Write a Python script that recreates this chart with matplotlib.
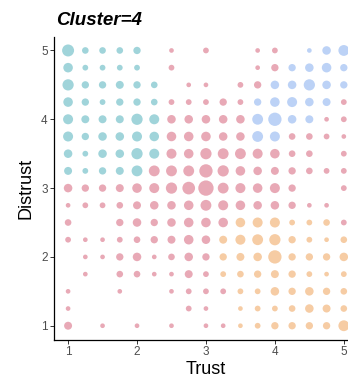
import numpy as np
import matplotlib.pyplot as plt

plt.rcParams['font.family'] = ['Liberation Sans', 'DejaVu Sans']

# grid levels
trust_levels = [1 + 0.25 * i for i in range(17)]
distrust_levels = [5 - 0.25 * i for i in range(17)]

# cluster of each cell (rows: Distrust 5 -> 1, cols: Trust 1 -> 5), '.' = no respondents
groups = [
    "TTTTT.P.P..PP.BBB",
    "TTTTT.P....PPBBBB",
    "TTTTTT.PP.PPBBBBB",
    "TTTTTTPPPPPBBBBBP",
    "TTTTTTPPPPPBBBBPP",
    "TTTTTTPPPPPBBPPPP",
    "TTTTTTPPPPPPPPP.P",
    "TTTTTPPPPPPPPPPPP",
    "PPPPPPPPPPPPPP..P",
    "PPPPPPPPPPPPPPPP.",
    "P..PPPPPPPOOOOOOP",
    "PPPPPPPPPOOOOOOOO",
    ".PPPPPPPPOOOOOOOO",
    ".P.PPPPPPOOOOOOOO",
    "P..P..PPPPOOOOOOO",
    "P......PP.OOOOOOO",
    "P.P.P.P.PPOOOOOOO",
]

# number of respondents in each cell
counts = [
    [14, 3, 3, 3, 4, 0, 1, 0, 2, 0, 0, 1, 2, 0, 1, 6, 11],
    [8, 2, 2, 2, 2, 0, 2, 0, 0, 0, 0, 1, 4, 4, 6, 8, 4],
    [12, 4, 4, 5, 4, 3, 0, 1, 1, 0, 2, 4, 6, 6, 12, 6, 4],
    [8, 4, 2, 4, 4, 3, 2, 2, 2, 4, 2, 4, 8, 9, 6, 5, 2],
    [9, 5, 5, 5, 12, 9, 6, 6, 6, 6, 6, 11, 18, 6, 5, 1, 2],
    [9, 4, 6, 6, 9, 8, 8, 8, 8, 6, 6, 11, 9, 3, 3, 2, 1],
    [6, 2, 6, 6, 12, 9, 9, 8, 12, 11, 11, 9, 8, 3, 3, 0, 2],
    [5, 2, 4, 5, 11, 11, 11, 11, 18, 12, 8, 6, 5, 4, 3, 2, 2],
    [6, 4, 4, 5, 8, 9, 12, 16, 25, 11, 9, 8, 9, 4, 0, 0, 2],
    [1, 2, 2, 3, 5, 6, 6, 8, 11, 9, 8, 6, 6, 4, 1, 1, 0],
    [3, 0, 0, 4, 6, 4, 6, 8, 8, 8, 8, 9, 9, 2, 2, 3, 2],
    [2, 1, 1, 2, 3, 4, 5, 8, 6, 5, 9, 11, 12, 4, 2, 1, 3],
    [0, 1, 1, 4, 6, 1, 3, 6, 4, 4, 5, 6, 18, 4, 4, 4, 6],
    [0, 1, 0, 3, 3, 1, 1, 5, 2, 2, 3, 4, 5, 4, 2, 1, 2],
    [1, 0, 0, 1, 0, 0, 1, 2, 2, 2, 2, 2, 6, 4, 6, 4, 3],
    [1, 0, 0, 0, 0, 0, 0, 2, 1, 0, 1, 2, 2, 3, 6, 5, 3],
    [5, 0, 1, 0, 1, 0, 1, 0, 1, 1, 1, 2, 4, 4, 4, 4, 11],
]

colors = {'T': '#a0d4da', 'P': '#e8a9b6', 'B': '#bcd2f6', 'O': '#f6cca4'}

fig = plt.figure(figsize=(3.48, 3.77), dpi=100)
ax = fig.add_axes([54.3 / 348, 1 - 339.5 / 377, 303.3 / 348, 302.8 / 377])

for key, col in colors.items():
    xs, ys, ns = [], [], []
    for i, row in enumerate(groups):
        for j, g in enumerate(row):
            if g == key and counts[i][j] > 0:
                xs.append(trust_levels[j])
                ys.append(distrust_levels[i])
                ns.append(counts[i][j])
    ns = np.array(ns, dtype=float)
    d_pt = (6 + 8 * np.sqrt(ns)) / 3 * 0.72
    ax.scatter(xs, ys, s=d_pt ** 2, color=col, edgecolors='none', zorder=2)

ax.set_xlim(0.8, 5.2)
ax.set_ylim(0.8, 5.2)
ax.set_xticks([1, 2, 3, 4, 5])
ax.set_yticks([1, 2, 3, 4, 5])
for s in ['top', 'right']:
    ax.spines[s].set_visible(False)
for s in ['left', 'bottom']:
    ax.spines[s].set_linewidth(0.9)
ax.tick_params(length=2.7, width=0.7, color='#333333', labelsize=8.5,
               labelcolor='#4d4d4d', pad=2)

fig.text(56 / 348, 1 - 25 / 377, 'Cluster=4', fontsize=13.5, fontweight='bold',
         fontstyle='italic', va='baseline', ha='left')
fig.text(206 / 348, 1 - 369 / 377, 'Trust', fontsize=13, ha='center', va='center')
fig.text(26 / 348, 1 - 188 / 377, 'Distrust', fontsize=13, ha='center', va='center',
         rotation=90)

fig.savefig('out.png', dpi=100)
